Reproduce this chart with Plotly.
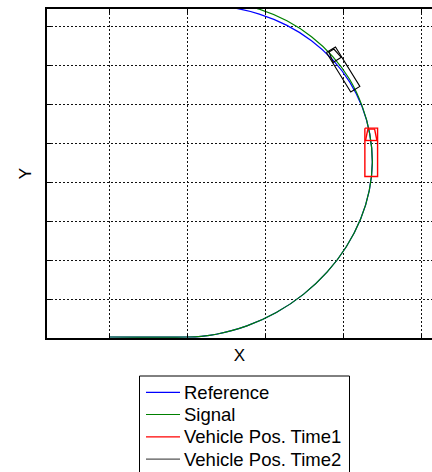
import numpy as np
import plotly.graph_objects as go

# ---------------- data ----------------
ref_x = [0.0, 19.83, 23.47, 27.35, 35.20, 42.74, 49.69, 55.75, 60.70, 64.37, 66.60, 67.37,
         66.70, 64.75, 61.54, 57.18, 51.77, 45.46, 38.38, 30.73, 22.47, 0.0, -20.0]
ref_y = [0.26, 0.26, 0.44, 0.97, 3.10, 6.54, 11.19, 16.88, 23.42, 30.53, 37.89, 44.97,
         52.44, 59.34, 65.70, 71.40, 76.27, 80.20, 83.09, 84.86, 85.45, 85.45, 85.45]

sig_x = [0.0, 19.83, 23.47, 27.35, 35.20, 42.74, 49.69, 55.75, 60.70, 64.37, 66.60, 67.37,
         66.70, 64.75, 61.54, 57.18, 51.77, 45.46, 38.38, 30.73, 22.47, 0.0, -20.0]
sig_y = [0.26, 0.26, 0.44, 0.97, 3.10, 6.54, 11.19, 16.88, 23.42, 30.53, 37.89, 44.97,
         52.44, 59.54, 66.37, 72.27, 77.30, 81.38, 84.35, 86.17, 86.79, 86.79, 86.79]

veh_names = ["Vehicle Pos. Time1", "Vehicle Pos. Time2"]
veh_x = [67.09, 59.88]
veh_y = [47.64, 68.88]
veh_heading_deg = [90.0, 121.7]
veh_len = [12.4, 11.9]
veh_wid = [3.26, 2.75]

x_ticks = [0, 20, 40, 60, 80]
y_ticks = [0, 10, 20, 30, 40, 50, 60, 70, 80]

series_names = ["Reference", "Signal"] + veh_names

# ---------------- styles ----------------
C_REF = "#0000ff"
C_SIG = "#008000"
C_V1 = "#ff0000"
C_V2 = "#000000"
C_V2_LEG = "#555555"
FONT = "Liberation Sans, Arial, sans-serif"

W, H = 432, 472
ML, MR, MT, MB = 47, 0, 9, 134
PW, PH = W - ML - MR, H - MT - MB


def vehicle_outline(cx, cy, hdg, L, Wd):
    h = np.deg2rad(hdg)
    f = np.array([np.cos(h), np.sin(h)])
    n = np.array([-np.sin(h), np.cos(h)])
    c = np.array([cx, cy])
    fl = c + f * L / 2 + n * Wd / 2
    fr = c + f * L / 2 - n * Wd / 2
    rr = c - f * L / 2 - n * Wd / 2
    rl = c - f * L / 2 + n * Wd / 2
    d = L / 2 - 0.256 * L
    ll = c + f * d + n * Wd / 2
    lr = c + f * d - n * Wd / 2
    wtl = c + f * (L / 2 - 0.02 * L) + n * 0.53 * Wd / 2
    wtr = c + f * (L / 2 - 0.02 * L) - n * 0.53 * Wd / 2
    wbl = c + f * d + n * 0.9 * Wd / 2
    wbr = c + f * d - n * 0.9 * Wd / 2
    segs = [[fl, fr, rr, rl, fl], [ll, lr], [wbl, wtl, wtr, wbr]]
    xs, ys = [], []
    for s in segs:
        for p in s:
            xs.append(p[0]); ys.append(p[1])
        xs.append(None); ys.append(None)
    return xs, ys


fig = go.Figure()
fig.add_trace(go.Scatter(x=ref_x, y=ref_y, mode="lines", name=series_names[0],
                         line=dict(color=C_REF, width=1.2, shape="spline", smoothing=1.0),
                         showlegend=False, hoverinfo="skip"))
fig.add_trace(go.Scatter(x=sig_x, y=sig_y, mode="lines", name=series_names[1],
                         line=dict(color=C_SIG, width=1.2, shape="spline", smoothing=1.0),
                         showlegend=False, hoverinfo="skip"))
for i, col in enumerate([C_V1, C_V2]):
    vx, vy = vehicle_outline(veh_x[i], veh_y[i], veh_heading_deg[i], veh_len[i], veh_wid[i])
    fig.add_trace(go.Scatter(x=vx, y=vy, mode="lines", name=veh_names[i],
                             line=dict(color=col, width=1.4 if i == 0 else 1.1),
                             showlegend=False, hoverinfo="skip"))

# x range chosen so that x and y have the same scale
ppu = PH / (84.4 - 0.0)
x_left = -(109.7 - ML) / ppu
x_right = x_left + PW / ppu

axis_common = dict(showticklabels=False, ticks="inside", ticklen=4, tickcolor="black",
                   showgrid=True, gridcolor="#111111", griddash="2px,2px", gridwidth=1,
                   showline=True, linecolor="black", linewidth=2, zeroline=False)

fig.update_layout(
    width=W, height=H,
    margin=dict(l=ML, r=MR, t=MT, b=MB, autoexpand=False),
    paper_bgcolor="white", plot_bgcolor="white",
    font=dict(family=FONT, size=17, color="black"),
    showlegend=False,
    xaxis=dict(range=[x_left, x_right], tickvals=x_ticks, mirror="ticks",
               title=dict(text="X", standoff=10, font=dict(size=17)), **axis_common),
    yaxis=dict(range=[0, 84.4], tickvals=y_ticks, mirror=False,
               title=dict(text="Y", standoff=9, font=dict(size=17)), **axis_common),
)


def px2paper(px, py):
    return (px - ML) / PW, (H - MB - py) / PH


# ---------------- legend box (drawn manually for exact row spacing) ----------------
bx0, by0 = px2paper(139.5, 376)
bx1, by1 = px2paper(349.5, 480)
fig.add_shape(type="rect", xref="paper", yref="paper", x0=bx0, y0=by1, x1=bx1, y1=by0,
              line=dict(color="black", width=1), fillcolor="white", layer="above")
leg_colors = [C_REF, C_SIG, C_V1, C_V2_LEG]
row_y = [392.3, 414.5, 436.8, 459.2]
for name, col, ry in zip(series_names, leg_colors, row_y):
    lx0, ly = px2paper(146, ry)
    lx1, _ = px2paper(180, ry)
    fig.add_shape(type="line", xref="paper", yref="paper", x0=lx0, x1=lx1, y0=ly, y1=ly,
                  line=dict(color=col, width=1.2), layer="above")
    tx, ty = px2paper(182, ry)
    fig.add_annotation(xref="paper", yref="paper", x=tx, y=ty, text=name, showarrow=False,
                       xanchor="left", yanchor="middle", font=dict(size=18.5, family=FONT))

fig.write_html("out.html", config={"displayModeBar": False},
               post_script="document.body.style.margin='0';document.body.style.overflow='hidden';")
